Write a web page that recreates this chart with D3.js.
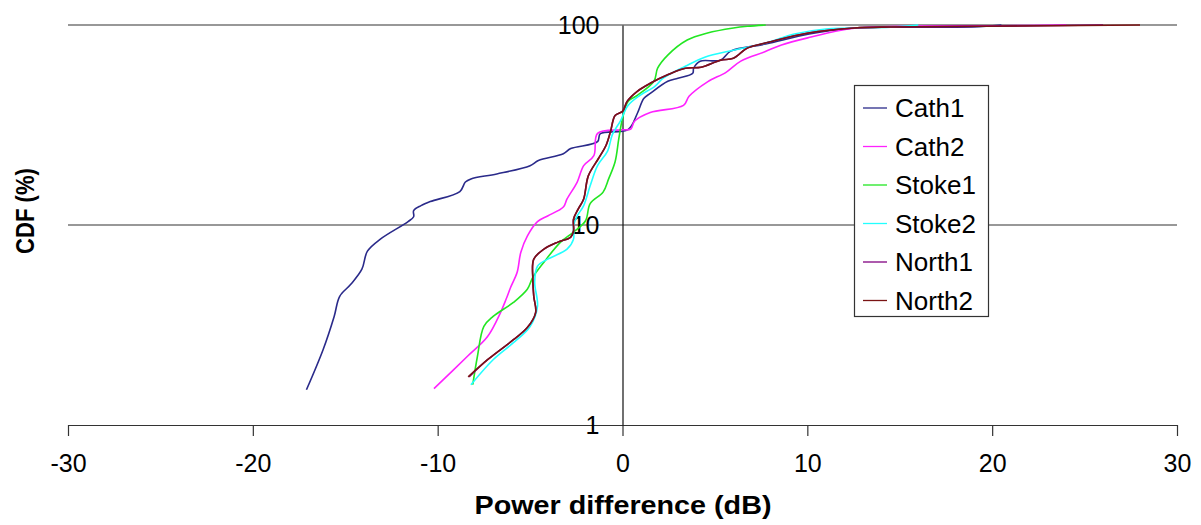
<!DOCTYPE html>
<html>
<head>
<meta charset="utf-8">
<script src="https://cdn.jsdelivr.net/npm/d3@7"></script>
<style>
  html, body { margin: 0; padding: 0; background: #fff; }
  svg { display: block; }
  text { font-family: "Liberation Sans", Arial, sans-serif; fill: #000; }
</style>
</head>
<body>
<svg id="chart" width="1201" height="525"></svg>
<script>
// Power difference (dB) vs cumulative probability (%) for each measurement run.
const seriesNames = ["Cath1", "Cath2", "Stoke1", "Stoke2", "North1", "North2"];
const seriesColors = ["#2a2a8a", "#ff22ff", "#22e622", "#22ffff", "#800080", "#7a1414"];

const cath1 = [
  [-17.1, 1.50], [-16.2, 2.38], [-15.6, 3.49], [-15.3, 4.40], [-14.7, 5.05], [-14.1, 6.01],
  [-13.8, 7.40], [-13.1, 8.50], [-11.6, 10.4], [-11.3, 11.0], [-11.3, 11.8], [-10.9, 12.5],
  [-10.4, 13.1], [-8.8, 14.7], [-8.5, 16.4], [-8.2, 17.0], [-6.8, 18.0], [-5.0, 19.8],
  [-4.55, 21.0], [-3.2, 22.7], [-2.8, 24.1], [-1.35, 26.1], [-1.2, 28.6], [0.3, 30.0],
  [0.8, 36.1], [1.15, 42.9], [1.5, 45.5], [2.45, 52.3], [3.0, 54.2], [3.8, 57.4],
  [3.85, 60.8], [4.2, 65.9], [5.3, 66.7], [5.85, 74.0], [7.75, 80.3], [10.1, 90.1],
  [12.5, 96.6], [14.5, 97.5], [19.3, 98.1], [20.5, 100]
];
const cath2 = [
  [-10.2, 1.52], [-8.4, 2.20], [-7.3, 2.77], [-6.6, 3.65], [-6.3, 4.25], [-6.05, 4.88],
  [-5.7, 5.80], [-5.5, 7.31], [-5.15, 8.80], [-4.6, 10.4], [-4.05, 11.1], [-3.2, 12.3],
  [-3.0, 13.5], [-2.45, 16.4], [-2.1, 19.8], [-1.55, 22.2], [-1.35, 28.7], [-0.1, 29.9],
  [0.45, 30.2], [0.65, 33.0], [1.5, 36.5], [3.3, 39.6], [3.6, 44.0], [4.6, 52.0],
  [5.6, 58.0], [6.4, 66.0], [7.7, 73.5], [8.6, 79.5], [10.2, 87.0], [12.2, 95.5],
  [14.5, 98.3], [20.5, 99.2], [24.0, 100]
];
const stoke1 = [
  [-8.1, 1.59], [-7.85, 2.20], [-7.5, 3.11], [-7.0, 3.49], [-5.9, 4.10], [-5.15, 4.77],
  [-4.85, 5.48], [-4.25, 6.52], [-3.35, 8.21], [-2.65, 9.22], [-2.0, 10.5], [-1.75, 12.8],
  [-1.05, 14.6], [-0.75, 17.0], [-0.4, 20.7], [-0.2, 27.0], [0.0, 34.1], [0.3, 41.5],
  [0.8, 44.5], [1.7, 52.3], [1.9, 60.8], [2.45, 70.7], [3.5, 84.1], [4.6, 91.2],
  [6.0, 96.6], [6.75, 98.5], [7.75, 100]
];
const stoke2 = [
  [-8.2, 1.59], [-7.0, 2.12], [-5.9, 2.58], [-5.0, 3.11], [-4.6, 3.92], [-4.75, 5.17],
  [-4.6, 6.22], [-4.05, 6.75], [-3.0, 7.57], [-2.65, 8.5], [-2.65, 9.9], [-2.45, 11.1],
  [-2.1, 12.5], [-1.75, 15.7], [-1.35, 19.8], [-0.8, 23.5], [-0.55, 28.3], [-0.1, 33.3],
  [0.3, 39.6], [0.95, 44.5], [1.75, 49.3], [2.2, 54.2], [3.4, 62.2], [4.45, 69.0],
  [6.0, 74.8], [7.75, 81.2], [9.3, 90.1], [11.0, 95.5], [14.5, 97.5], [16.0, 100]
];
const north1 = [
  [-8.3, 1.74], [-7.3, 2.12], [-5.9, 2.67], [-5.15, 3.07], [-4.7, 3.65], [-4.8, 4.40],
  [-4.85, 5.35], [-4.8, 6.75], [-4.25, 7.57], [-3.5, 8.21], [-2.8, 8.7], [-2.65, 9.33],
  [-2.65, 10.7], [-2.4, 12.0], [-2.1, 13.5], [-1.85, 17.6], [-1.3, 21.5], [-0.9, 24.9],
  [-0.65, 29.3], [-0.4, 35.3], [0.0, 37.0], [0.25, 41.5], [0.8, 46.6], [1.5, 51.1],
  [2.5, 56.7], [3.4, 60.8], [4.25, 61.5], [5.3, 66.7], [6.0, 68.2], [6.75, 76.6],
  [7.95, 82.2], [10.05, 91.2], [12.55, 96.6], [14.5, 97.8], [19.3, 98.5], [26.0, 100]
];
const north2 = [
  [-8.35, 1.74], [-7.3, 2.12], [-5.9, 2.67], [-5.15, 3.07], [-4.7, 3.65], [-4.8, 4.40],
  [-4.85, 5.35], [-4.8, 6.75], [-4.25, 7.57], [-3.5, 8.21], [-2.8, 8.7], [-2.65, 9.33],
  [-2.65, 10.7], [-2.4, 12.0], [-2.1, 13.5], [-1.85, 17.6], [-1.3, 21.5], [-0.9, 24.9],
  [-0.65, 29.3], [-0.4, 35.3], [0.0, 37.0], [0.25, 41.5], [0.8, 46.6], [1.5, 51.1],
  [2.5, 56.7], [3.4, 60.8], [4.25, 61.5], [5.3, 66.7], [6.0, 68.2], [6.75, 76.6],
  [7.95, 82.2], [10.05, 91.2], [12.55, 96.6], [14.5, 97.8], [19.3, 98.5], [28.0, 100]
];
const seriesValues = [cath1, cath2, stoke1, stoke2, north1, north2];

const xTicks = [-30, -20, -10, 0, 10, 20, 30];
const yTicks = [1, 10, 100];
const yGrid = [10, 100];

const svg = d3.select("#chart");

const x = d3.scaleLinear().domain([-30, 30]).range([68, 1177]);
const y = d3.scaleLog().domain([1, 100]).range([425, 25]);

// horizontal gridlines at the decades
svg.append("g")
  .selectAll("line")
  .data(yGrid)
  .join("line")
  .attr("x1", x(-30)).attr("x2", x(30))
  .attr("y1", d => y(d)).attr("y2", d => y(d))
  .attr("stroke", "#333").attr("stroke-width", 1.2);

// x axis along the 1 % line (plain hyphen for negatives)
const xAxis = svg.append("g")
  .attr("transform", `translate(0,${y(1)})`)
  .call(d3.axisBottom(x).tickValues(xTicks).tickSize(11).tickPadding(18).tickSizeOuter(0)
    .tickFormat(d => String(d)));
xAxis.selectAll("path.domain").attr("stroke", "#333").attr("stroke-width", 1.2);
xAxis.selectAll(".tick line").attr("stroke", "#333").attr("stroke-width", 1.2);
xAxis.selectAll("text").attr("font-size", 25).attr("font-family", "Liberation Sans, Arial, sans-serif");

// y axis crosses at 0 dB
const yAxis = svg.append("g")
  .attr("transform", `translate(${x(0)},0)`)
  .call(d3.axisLeft(y).tickValues(yTicks).tickSize(0).tickPadding(23)
    .tickFormat(d => String(d)));
yAxis.selectAll("path.domain").attr("stroke", "#111").attr("stroke-width", 1.2);
yAxis.selectAll("text").attr("font-size", 25).attr("font-family", "Liberation Sans, Arial, sans-serif");

// curves
const line = d3.line()
  .x(d => x(d[0]))
  .y(d => y(d[1]))
  .curve(d3.curveCatmullRom.alpha(0.5));

svg.append("g")
  .selectAll("path")
  .data(seriesValues)
  .join("path")
  .attr("d", line)
  .attr("fill", "none")
  .attr("stroke", (d, i) => seriesColors[i])
  .attr("stroke-width", 1.6)
  .attr("stroke-linejoin", "round");

// axis titles
svg.append("text")
  .attr("x", 623).attr("y", 514)
  .attr("text-anchor", "middle")
  .attr("font-size", 25).attr("font-weight", "bold")
  .attr("textLength", 297).attr("lengthAdjust", "spacingAndGlyphs")
  .text("Power difference (dB)");

svg.append("text")
  .attr("transform", "translate(34,211) rotate(-90)")
  .attr("text-anchor", "middle")
  .attr("font-size", 25).attr("font-weight", "bold")
  .attr("textLength", 86).attr("lengthAdjust", "spacingAndGlyphs")
  .text("CDF (%)");

// legend
const legend = svg.append("g");
legend.append("rect")
  .attr("x", 854.5).attr("y", 85.5).attr("width", 134).attr("height", 231)
  .attr("fill", "#fff").attr("stroke", "#333").attr("stroke-width", 1.2);

const rows = legend.selectAll("g.row")
  .data(seriesNames)
  .join("g")
  .attr("class", "row")
  .attr("transform", (d, i) => `translate(0,${108 + i * 38.5})`);
rows.append("line")
  .attr("x1", 863).attr("x2", 887).attr("y1", 0).attr("y2", 0)
  .attr("stroke", (d, i) => seriesColors[i]).attr("stroke-width", 1.3);
rows.append("text")
  .attr("x", 895).attr("y", 0).attr("dy", "0.36em")
  .attr("font-size", 26)
  .text(d => d);
</script>
</body>
</html>
